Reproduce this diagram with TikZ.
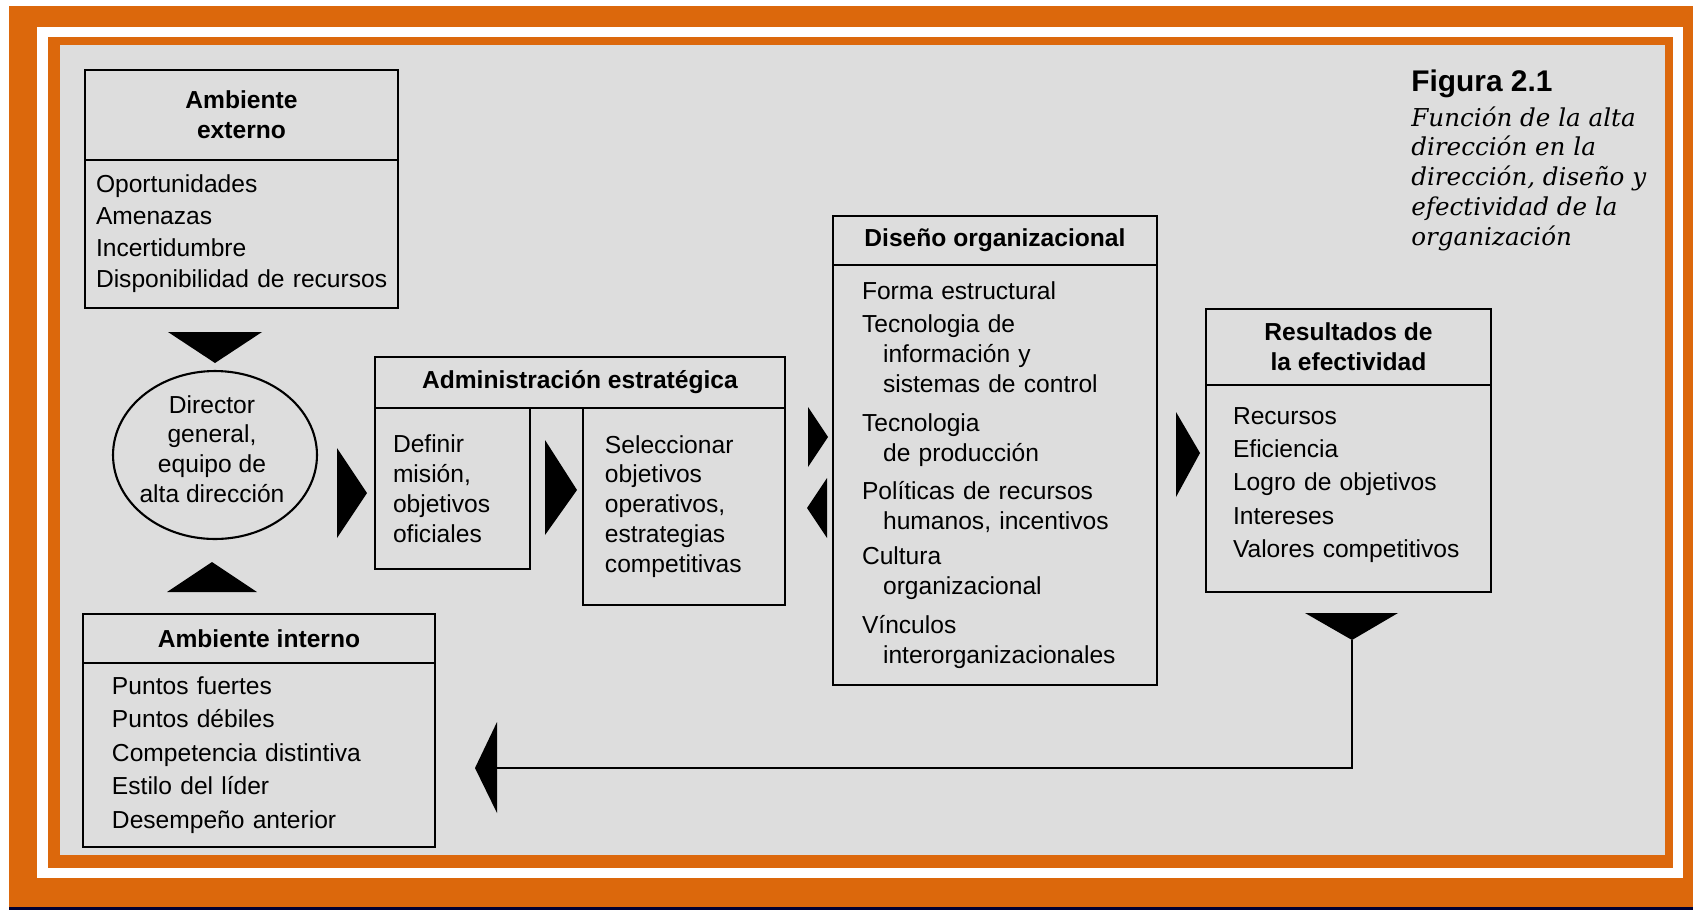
\documentclass[tikz,border=0pt]{standalone}
\usepackage{fontspec}
\setmainfont{Liberation Sans}
\newfontfamily\capfont{DejaVu Serif}
\usepackage{tikz}
\usetikzlibrary{shapes,arrows,positioning}
\usepackage{xcolor}
\definecolor{frameorange}{RGB}{220,104,12}
\definecolor{panelgray}{RGB}{221,221,221}

\begin{document}
\begin{tikzpicture}[
        x=0.02cm, y=-0.02cm,
        every node/.style={font=\fontsize{14}{17}\selectfont},
        hdr/.style={draw, line width=1.2pt, outer sep=0pt, anchor=north west, align=center,
            inner sep=0pt, font=\fontsize{14}{17}\selectfont\bfseries},
        body/.style={draw, line width=1.2pt, outer sep=0pt, anchor=north west, align=left,
            inner ysep=0pt},
        loose/.style={font=\fontsize{14}{19}\selectfont}
    ]
        \useasboundingbox (0,0) rectangle (1699,910);

        % frame
        \fill[white] (0,0) rectangle (1699,910);
        \fill[frameorange] (9,6) rectangle (1693,907);
        \fill[black!80!blue] (9,907) rectangle (1693,910);
        \fill[white] (37,27) rectangle (1683,878);
        \fill[frameorange] (48,37) rectangle (1673,868);
        \fill[panelgray] (60,45) rectangle (1665,855);

        % Ambiente externo
        \node[hdr, minimum width=6.26cm, minimum height=1.8cm] (extH) at (85,70) {Ambiente\\externo};
        \node[body, font=\fontsize{14}{18}\selectfont, text width=6.02cm, inner xsep=0.12cm, minimum height=2.96cm] (extB) at (extH.south west)
            {\hspace*{0.1cm}Oportunidades\\\hspace*{0.1cm}Amenazas\\\hspace*{0.1cm}Incertidumbre\\\hspace*{0.1cm}Disponibilidad de recursos};

        % Director general - ellipse
        \node[draw, ellipse, line width=1.2pt, minimum width=4.08cm, minimum height=3.36cm, inner sep=0pt] (dir) at (215,455) {};
        \node[align=center] (dirtxt) at (212,449) {Director\\general,\\equipo de\\alta dirección};

        % Ambiente interno
        \node[hdr, minimum width=7.04cm, minimum height=0.98cm] (intH) at (83,614) {Ambiente interno};
        \node[body, loose, text width=5.88cm, inner xsep=0.58cm, minimum height=3.68cm] (intB) at (intH.south west)
            {Puntos fuertes\\Puntos débiles\\Competencia distintiva\\Estilo del líder\\Desempeño anterior};

        % Administracion estrategica
        \node[hdr, minimum width=8.2cm, minimum height=1.02cm] (admH) at (375,357) {Administración estratégica};
        \node[body, text width=2.38cm, inner xsep=0.36cm, minimum height=3.22cm] (admL) at (admH.south west)
            {Definir\\misión,\\objetivos\\oficiales};
        \node[body, anchor=north east, text width=3.16cm, inner xsep=0.44cm, minimum height=3.94cm] (admR) at (admH.south east)
            {Seleccionar\\objetivos\\operativos,\\estrategias\\competitivas};

        % Diseno organizacional
        \node[hdr, minimum width=6.48cm, minimum height=0.98cm] (disH) at (833,216) {Diseño organizacional};
        \node[body, text width=5.32cm, inner xsep=0.58cm, minimum height=8.4cm] (disB) at (disH.south west)
            {Forma estructural\\[2pt]
             Tecnologia de\\\hspace*{12pt}información y\\\hspace*{12pt}sistemas de control\\[5pt]
             Tecnologia\\\hspace*{12pt}de producción\\[5pt]
             Políticas de recursos\\\hspace*{12pt}humanos, incentivos\\[3pt]
             Cultura\\\hspace*{12pt}organizacional\\[5pt]
             Vínculos\\\hspace*{12pt}interorganizacionales};

        % Resultados de la efectividad
        \node[hdr, minimum width=5.7cm, minimum height=1.52cm] (resH) at (1206,309) {Resultados de\\la efectividad};
        \node[body, loose, text width=4.62cm, inner xsep=0.54cm, minimum height=4.14cm] (resB) at (resH.south west)
            {Recursos\\Eficiencia\\Logro de objetivos\\Intereses\\Valores competitivos\\[-12pt]\mbox{}};

        % caption
        \node[anchor=west, inner sep=0pt, font=\fontsize{17}{20}\selectfont\bfseries] (fignum) at (1411,84) {Figura 2.1};
        \node[anchor=north west, align=left, inner sep=0pt, font=\capfont\itshape\fontsize{14}{17}\selectfont] (figcap) at (1411,106)
            {Función de la alta\\dirección en la\\dirección, diseño y\\efectividad de la\\organización};

        % big arrow heads
        \fill (168,332) -- (262,332) -- (215,363) -- cycle;
        \fill (167,592) -- (257,592) -- (212,562) -- cycle;
        \fill (337,448) -- (337,538) -- (367,493) -- cycle;
        \fill (545,440) -- (545,535) -- (577,490) -- cycle;
        \fill (808,407) -- (808,467) -- (828,437) -- cycle;
        \fill (827,478) -- (827,538) -- (807,508) -- cycle;
        \fill (1176,412) -- (1176,497) -- (1200,453) -- cycle;
        \fill (1305,613) -- (1398,613) -- (1352,640) -- cycle;
        \fill (497,722) -- (497,813) -- (475,768) -- cycle;

        % feedback line
        \coordinate (fbtop) at (1352,640);
        \coordinate (fbend) at (497,768);
        \draw[line width=1.4pt] (fbtop) |- (fbend);

    \end{tikzpicture}
\end{document}
